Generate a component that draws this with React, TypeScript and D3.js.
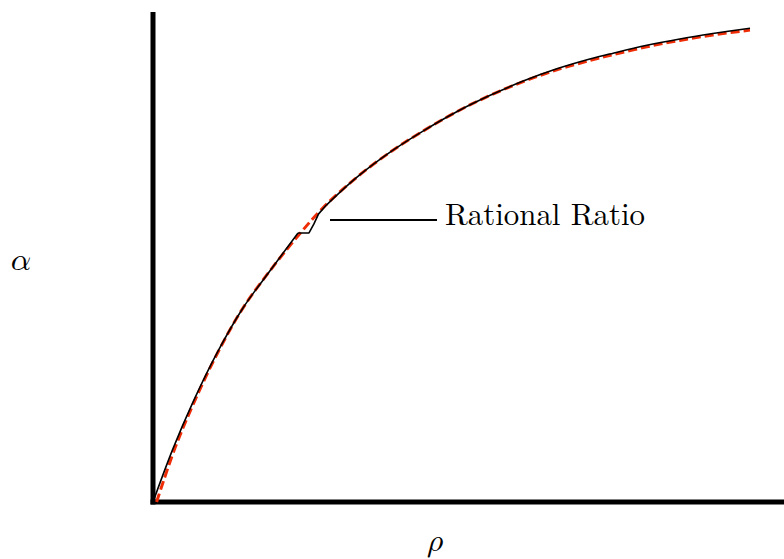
import React from "react";
import * as d3 from "d3";

// Measured curve (black, solid) – ρ vs α
const rho = [0, 0.033, 0.067, 0.107, 0.15, 0.2, 0.245, 0.283, 0.34, 0.4, 0.45, 0.507, 0.562, 0.617, 0.673, 0.728, 0.767, 0.823, 0.878, 0.933, 0.995];
const alphaRational = [0, 0.108, 0.205, 0.305, 0.396, 0.48, 0.548, 0.6, 0.663, 0.718, 0.757, 0.797, 0.83, 0.859, 0.884, 0.904, 0.916, 0.932, 0.945, 0.956, 0.967];

// Small excursion of the solid curve
const kinkRho = [0.2417, 0.26, 0.268, 0.276, 0.289];
const kinkAlpha = [0.549, 0.549, 0.567, 0.588, 0.606];

// Reference curve (red, dashed)
const fitRho = [0.006, 0.036, 0.069, 0.108, 0.15, 0.2, 0.245, 0.283, 0.34, 0.4, 0.45, 0.507, 0.562, 0.617, 0.673, 0.728, 0.767, 0.823, 0.878, 0.933, 0.995];
const fitAlpha = [0, 0.108, 0.205, 0.305, 0.396, 0.48, 0.548, 0.6, 0.663, 0.718, 0.757, 0.797, 0.83, 0.858, 0.882, 0.901, 0.913, 0.929, 0.942, 0.953, 0.963];

const seriesLabel = "Rational Ratio";
const xTitle = "𝜌";
const yTitle = "𝛼";

const W = 784;
const H = 559;
const roman = `"Latin Modern Roman", "Liberation Serif", serif`;
const math = `"Latin Modern Math", "Latin Modern Roman", "Liberation Serif", serif`;

export default function App() {
  const x = d3.scaleLinear().domain([0, 1]).range([153, 753]);
  const y = d3.scaleLinear().domain([0, 1]).range([502, 12]);

  const smooth = d3
    .line<[number, number]>()
    .x((d) => x(d[0]))
    .y((d) => y(d[1]))
    .curve(d3.curveCatmullRom.alpha(0.5));
  const bent = d3
    .line<[number, number]>()
    .x((d) => x(d[0]))
    .y((d) => y(d[1]))
    .curve(d3.curveLinear);

  const measured: [number, number][] = rho.map((r, i) => [r, alphaRational[i]]);
  const kink: [number, number][] = kinkRho.map((r, i) => [r, kinkAlpha[i]]);
  const lower = [...measured.filter((d) => d[0] < kinkRho[0]), kink[0]];
  const upper = [kink[kink.length - 1], ...measured.filter((d) => d[0] > kinkRho[kinkRho.length - 1])];
  const fit: [number, number][] = fitRho.map((r, i) => [r, fitAlpha[i]]);

  return (
    <svg
      width={W}
      height={H}
      viewBox={`0 0 ${W} ${H}`}
      style={{ position: "absolute", left: 0, top: 0, background: "#fff" }}
    >
      {/* axes */}
      <line x1={x(0)} x2={x(0)} y1={y(1)} y2={y(0) + 2.5} stroke="#000" strokeWidth={5} />
      <line x1={x(0) - 2.5} x2={W} y1={y(0)} y2={y(0)} stroke="#000" strokeWidth={5} />

      {/* reference curve */}
      <path d={smooth(fit) ?? ""} fill="none" stroke="#ee2c06" strokeWidth={3} strokeDasharray="9 4" />

      {/* measured curve */}
      <g fill="none" stroke="#000" strokeWidth={1.6} strokeLinejoin="round">
        <path d={smooth(lower) ?? ""} />
        <path d={bent(kink) ?? ""} />
        <path d={smooth(upper) ?? ""} />
      </g>

      {/* label */}
      <line x1={330} x2={437} y1={220} y2={220} stroke="#000" strokeWidth={2} />
      <text
        x={445}
        y={225}
        style={{ fontFamily: roman, fontSize: 31 }}
        textLength={200}
        lengthAdjust="spacingAndGlyphs"
        fill="#000"
      >
        {seriesLabel}
      </text>

      {/* axis titles */}
      <text x={21} y={270} textAnchor="middle" style={{ fontFamily: math, fontSize: 32 }}>
        {yTitle}
      </text>
      <text x={435} y={551} textAnchor="middle" style={{ fontFamily: math, fontSize: 32 }}>
        {xTitle}
      </text>
    </svg>
  );
}
